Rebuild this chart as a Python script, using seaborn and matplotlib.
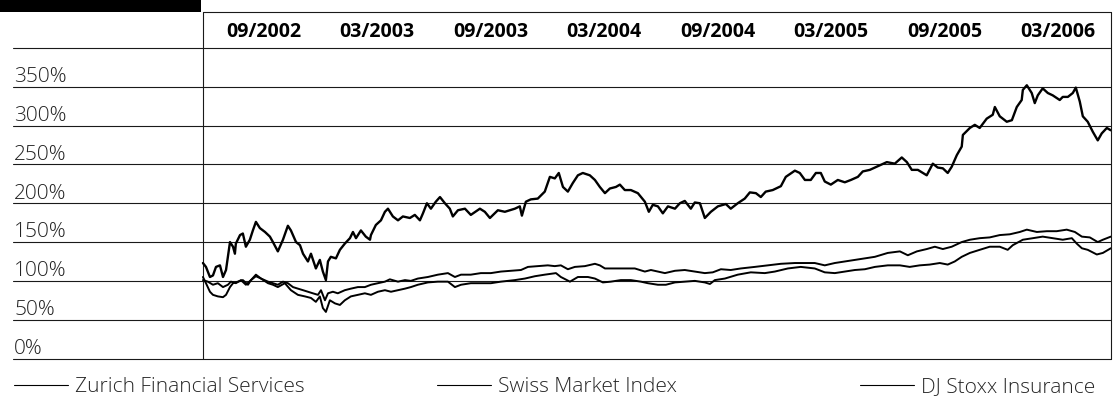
import matplotlib
matplotlib.use('Agg')
import matplotlib.pyplot as plt
import pandas as pd
import seaborn as sns
from matplotlib.lines import Line2D
from matplotlib.patches import Rectangle

sns.set_theme(style='white')
plt.rcParams['font.family'] = ['Open Sans', 'DejaVu Sans']

# months since start of the series (end of May 2002), value in % of start
zfs_points = [
    (0.00, 123), (0.16, 118), (0.37, 105), (0.53, 107), (0.69, 118), (0.90, 120), (1.06, 105), (1.22, 114),
    (1.43, 150), (1.59, 144), (1.69, 135), (1.74, 148), (1.96, 159), (2.11, 161), (2.27, 144), (2.48, 153),
    (2.64, 165), (2.80, 176), (3.01, 168), (3.28, 163), (3.54, 157), (3.70, 150), (3.96, 138), (4.23, 153),
    (4.49, 171), (4.65, 165), (4.92, 150), (5.13, 146), (5.29, 135), (5.55, 125), (5.71, 135), (5.97, 116),
    (6.18, 127), (6.34, 112), (6.50, 101), (6.61, 125), (6.76, 131), (7.03, 129), (7.24, 140), (7.50, 148),
    (7.77, 155), (7.93, 163), (8.09, 155), (8.35, 165), (8.61, 157), (8.83, 153), (8.88, 159), (9.14, 172),
    (9.41, 178), (9.62, 189), (9.78, 193), (10.04, 183), (10.31, 178), (10.57, 183), (10.94, 181), (11.20, 185),
    (11.47, 178), (11.63, 187), (11.84, 200), (12.05, 193), (12.31, 202), (12.53, 208), (12.79, 200), (13.05, 193),
    (13.21, 183), (13.48, 191), (13.85, 193), (14.16, 185), (14.64, 193), (14.90, 189), (15.17, 181), (15.59, 191),
    (15.96, 189), (16.49, 193), (16.75, 196), (16.86, 184), (17.07, 202), (17.33, 205), (17.70, 206), (18.07, 215),
    (18.34, 234), (18.60, 232), (18.81, 239), (19.03, 221), (19.29, 215), (19.55, 226), (19.82, 236), (20.08, 239),
    (20.45, 236), (20.72, 230), (20.98, 221), (21.25, 213), (21.51, 219), (21.83, 221), (22.04, 224), (22.30, 217),
    (22.62, 217), (22.99, 213), (23.36, 202), (23.57, 189), (23.78, 198), (24.05, 196), (24.31, 187), (24.58, 196),
    (24.95, 193), (25.21, 200), (25.47, 203), (25.79, 193), (26.00, 201), (26.27, 200), (26.53, 181), (26.85, 189),
    (27.22, 196), (27.64, 199), (27.90, 193), (28.27, 200), (28.64, 206), (28.91, 214), (29.23, 213), (29.49, 208),
    (29.75, 215), (30.12, 217), (30.55, 222), (30.81, 234), (31.29, 242), (31.55, 239), (31.82, 230), (32.13, 230),
    (32.40, 239), (32.66, 239), (32.87, 228), (33.19, 224), (33.56, 230), (33.93, 227), (34.25, 230), (34.62, 234),
    (34.88, 241), (35.25, 243), (35.52, 246), (35.78, 249), (36.15, 253), (36.57, 251), (36.94, 259), (37.21, 253),
    (37.47, 243), (37.79, 243), (38.26, 236), (38.58, 251), (38.84, 246), (39.11, 245), (39.37, 239), (39.58, 247),
    (39.85, 262), (40.11, 273), (40.17, 288), (40.54, 297), (40.80, 301), (41.06, 297), (41.43, 309), (41.75, 314),
    (41.86, 324), (42.12, 312), (42.49, 305), (42.76, 307), (43.02, 324), (43.28, 333), (43.34, 346), (43.55, 352),
    (43.81, 342), (43.97, 329), (44.13, 339), (44.39, 348), (44.66, 342), (44.92, 339), (45.29, 333), (45.45, 337),
    (45.72, 337), (45.98, 342), (46.14, 349), (46.35, 331), (46.51, 312), (46.77, 305), (47.04, 292), (47.30, 281),
    (47.51, 290), (47.78, 297), (47.99, 294),
]

smi_points = [
    (0.00, 101), (0.26, 99), (0.53, 95), (0.79, 97), (1.06, 92), (1.32, 95), (1.48, 99), (1.74, 97),
    (2.01, 101), (2.27, 95), (2.54, 101), (2.80, 106), (3.07, 103), (3.44, 99), (3.70, 97), (3.96, 95),
    (4.23, 99), (4.49, 97), (4.76, 92), (5.02, 90), (5.29, 88), (5.55, 86), (5.81, 84), (6.08, 82),
    (6.24, 88), (6.45, 75), (6.61, 84), (6.87, 86), (7.13, 84), (7.50, 88), (7.82, 90), (8.19, 92),
    (8.56, 92), (8.88, 95), (9.25, 97), (9.62, 99), (9.88, 102), (10.31, 99), (10.68, 101), (10.99, 100),
    (11.36, 103), (11.89, 105), (12.42, 108), (12.95, 110), (13.32, 105), (13.64, 108), (14.16, 108), (14.69, 110),
    (15.22, 110), (15.75, 112), (16.28, 113), (16.81, 114), (17.18, 118), (17.70, 119), (18.23, 120), (18.60, 119),
    (18.92, 120), (19.29, 115), (19.66, 118), (20.19, 119), (20.72, 122), (20.98, 120), (21.25, 116), (21.77, 116),
    (22.46, 116), (22.83, 116), (23.36, 112), (23.68, 114), (24.05, 112), (24.42, 110), (24.95, 113), (25.47, 114),
    (26.00, 112), (26.53, 110), (26.95, 111), (27.38, 115), (27.90, 114), (28.43, 116), (29.17, 118), (29.86, 120),
    (30.55, 122), (31.29, 123), (31.82, 123), (32.34, 123), (32.87, 120), (33.40, 123), (33.93, 125), (34.46, 127),
    (34.99, 129), (35.52, 131), (36.20, 136), (36.84, 138), (37.26, 133), (37.74, 138), (38.26, 141), (38.69, 144),
    (39.11, 141), (39.58, 144), (40.11, 150), (40.54, 153), (41.06, 155), (41.59, 156), (42.12, 159), (42.65, 160),
    (43.18, 163), (43.55, 166), (44.08, 163), (44.61, 164), (45.13, 164), (45.66, 166), (46.09, 163), (46.46, 157),
    (46.88, 156), (47.30, 150), (47.57, 153), (47.99, 157),
]

stoxx_points = [
    (0.00, 105), (0.16, 97), (0.37, 86), (0.53, 82), (0.79, 80), (1.06, 79), (1.22, 82), (1.43, 92),
    (1.59, 97), (1.85, 99), (2.11, 101), (2.38, 95), (2.54, 101), (2.80, 108), (3.07, 103), (3.44, 97),
    (3.70, 95), (3.96, 92), (4.33, 97), (4.65, 88), (5.02, 82), (5.39, 80), (5.71, 78), (5.97, 73),
    (6.18, 80), (6.34, 65), (6.50, 60), (6.71, 75), (6.98, 71), (7.24, 69), (7.50, 75), (7.82, 80),
    (8.19, 82), (8.56, 84), (8.88, 82), (9.25, 86), (9.62, 88), (9.94, 86), (10.31, 88), (10.68, 90),
    (10.99, 92), (11.36, 95), (11.89, 98), (12.42, 99), (12.95, 99), (13.32, 92), (13.64, 95), (14.16, 97),
    (14.69, 97), (15.22, 97), (15.75, 99), (16.49, 101), (17.02, 103), (17.55, 106), (18.07, 108), (18.66, 110),
    (18.92, 105), (19.40, 99), (19.82, 105), (20.35, 105), (20.72, 103), (21.14, 98), (21.56, 99), (22.09, 101),
    (22.62, 101), (23.15, 99), (23.52, 97), (24.05, 95), (24.47, 95), (24.95, 98), (25.47, 99), (26.00, 100),
    (26.53, 98), (26.80, 96), (27.06, 101), (27.59, 103), (28.27, 108), (28.96, 111), (29.70, 110), (30.23, 112),
    (30.92, 116), (31.60, 118), (32.34, 116), (32.87, 111), (33.40, 110), (33.93, 112), (34.46, 114), (34.99, 115),
    (35.52, 118), (36.20, 120), (36.84, 120), (37.36, 118), (37.89, 120), (38.42, 121), (38.95, 123), (39.37, 121),
    (39.74, 125), (40.11, 131), (40.54, 136), (41.06, 140), (41.59, 144), (42.12, 144), (42.54, 140), (42.81, 146),
    (43.34, 153), (43.87, 155), (44.39, 157), (44.92, 155), (45.45, 153), (45.93, 155), (46.19, 148), (46.46, 142),
    (46.77, 140), (47.25, 134), (47.57, 136), (47.99, 142),
]

header_labels = ['09/2002', '03/2003', '09/2003', '03/2004', '09/2004', '03/2005', '09/2005', '03/2006']
header_months = [3.2, 9.2, 15.2, 21.2, 27.2, 33.2, 39.2, 45.2]
y_levels = [0, 50, 100, 150, 200, 250, 300, 350]
series_names = ['Zurich Financial Services', 'Swiss Market Index', 'DJ Stoxx Insurance']

df_zfs = pd.DataFrame(zfs_points, columns=['month', 'value'])
df_smi = pd.DataFrame(smi_points, columns=['month', 'value'])
df_stoxx = pd.DataFrame(stoxx_points, columns=['month', 'value'])

W, H = 1113, 400
fig = plt.figure(figsize=(W / 100, H / 100), dpi=100)
ax = fig.add_axes([13 / W, 41.5 / H, 1098 / W, 310.5 / H])

line_col = '#1a1a1a'
top_y = 446.4  # top of the header row, in data units

# table rules
for v in y_levels + [400]:
    ax.axhline(v, color=line_col, lw=0.8, clip_on=False, zorder=1)
ax.plot([0, 48], [top_y, top_y], color=line_col, lw=0.8, clip_on=False)
ax.axvline(0, ymin=0, ymax=top_y / 400, color=line_col, lw=0.8, clip_on=False)
ax.axvline(48, ymin=0, ymax=top_y / 400, color=line_col, lw=0.8, clip_on=False)

sns.lineplot(data=df_stoxx, x='month', y='value', ax=ax, color='black', lw=1.4,
             estimator=None, sort=False, zorder=3)
sns.lineplot(data=df_smi, x='month', y='value', ax=ax, color='black', lw=1.4,
             estimator=None, sort=False, zorder=3)
sns.lineplot(data=df_zfs, x='month', y='value', ax=ax, color='black', lw=1.7,
             estimator=None, sort=False, zorder=4)

ax.set_xlim(-10.04, 48.0)
ax.set_ylim(0, 400)
for s in ax.spines.values():
    s.set_visible(False)
ax.set_xlabel('')
ax.set_ylabel('')
ax.set_yticks([])

# header row as top tick labels
ax.xaxis.tick_top()
ax.set_xticks(header_months)
ax.set_xticklabels(header_labels, fontsize=14, fontweight='bold', color='black')
ax.tick_params(axis='x', length=0, pad=4)

# percentage labels sitting above each rule
for v in y_levels:
    ax.text(0.001, v + 6, f'{v}%', transform=ax.get_yaxis_transform(), ha='left',
            va='baseline', fontsize=15, fontweight='light', color='#222222')

# black tab in the top-left corner
fig.add_artist(Rectangle((0, 388 / H), 201 / W, 12 / H, transform=fig.transFigure,
                         facecolor='black', edgecolor='none'))

# legend entries spread along the bottom
for name, xpos in zip(series_names, [14, 437, 860]):
    h = Line2D([], [], color='black', lw=0.8)
    fig.legend(handles=[h], labels=[name], loc='center left',
               bbox_to_anchor=(xpos / W, (H - 387) / H), bbox_transform=fig.transFigure,
               frameon=False, borderpad=0, borderaxespad=0, handlelength=2.6,
               handletextpad=0.34, prop={'size': 15, 'weight': 'light'})

fig.savefig('out.png', dpi=100)
